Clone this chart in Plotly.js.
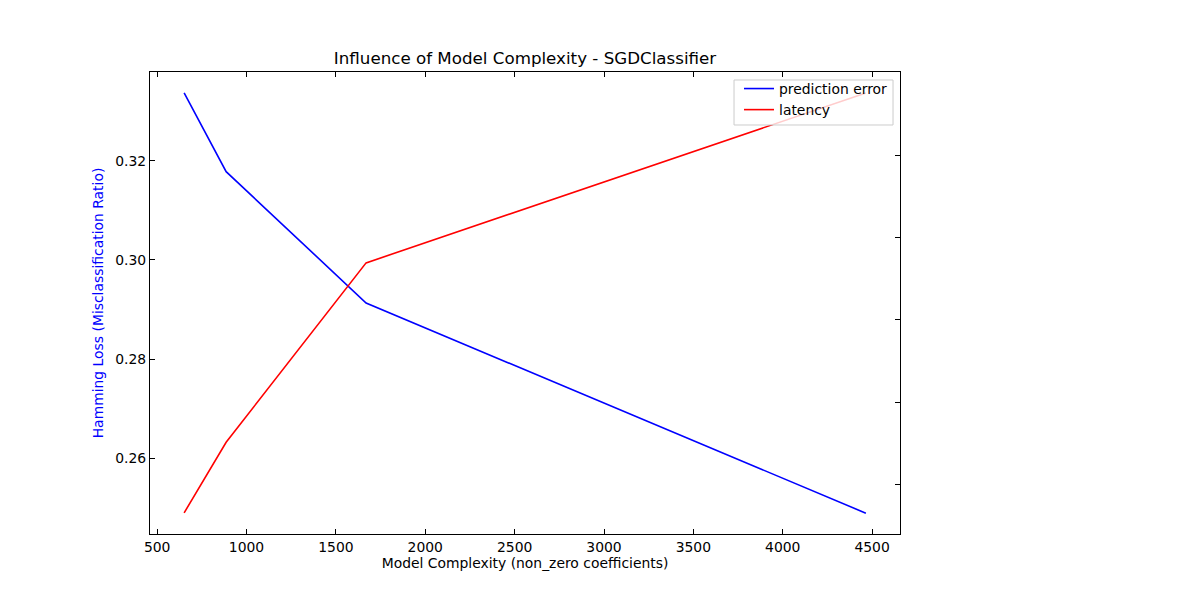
<!DOCTYPE html>
<html>
<head>
<meta charset="utf-8">
<script src="https://cdn.plot.ly/plotly-3.0.1.min.js"></script>
<style>html,body{margin:0;padding:0;background:#fff;}#chart{width:1200px;height:600px;}</style>
</head>
<body>
<div id="chart"></div>
<script>
// Model complexity (number of non-zero coefficients)
const complexity = [651, 886, 1669, 4465];
// Hamming loss (prediction error), left axis
const predictionError = [0.3337, 0.3178, 0.2913, 0.2489];
// Latency, right axis (tick labels hidden in the reference)
const latency = [9.30, 11.02, 15.39, 19.53];
const xTicks = [500, 1000, 1500, 2000, 2500, 3000, 3500, 4000, 4500];
const yTicks = [0.26, 0.28, 0.30, 0.32];
const y2Ticks = [10, 12, 14, 16, 18];

const font = "DejaVu Sans, sans-serif";
const traces = [
  {x: complexity, y: predictionError, mode: 'lines', name: 'prediction error',
   line: {color: 'blue', width: 1.6}, yaxis: 'y'},
  {x: complexity, y: latency, mode: 'lines', name: 'latency',
   line: {color: 'red', width: 1.6}, yaxis: 'y2'}
];
const layout = {
  width: 1200, height: 600,
  paper_bgcolor: '#fff', plot_bgcolor: '#fff',
  margin: {l: 150, r: 300, t: 72, b: 66, pad: 0},
  font: {family: font, size: 13.9, color: '#000'},
  title: {text: 'Influence of Model Complexity - SGDClassifier', font: {family: font, size: 16.7, color: '#000'},
          x: 0.4375, xanchor: 'center', y: 0.903, yanchor: 'middle'},
  showlegend: true,
  legend: {x: 0.9907, xanchor: 'right', y: 0.9978, yanchor: 'top',
           bgcolor: 'rgba(0,0,0,0)', borderwidth: 0,
           font: {family: font, size: 13.9, color: '#000'}, tracegroupgap: 0},
  shapes: [{type: 'rect', xref: 'paper', yref: 'paper', x0: 0.7787, x1: 0.9907, y0: 0.8853, y1: 0.9827,
            fillcolor: 'rgba(255,255,255,0.8)', line: {color: '#cccccc', width: 1}, layer: 'above'}],
  xaxis: {range: [460, 4656], tickvals: xTicks, ticktext: xTicks.map(String),
          showgrid: false, zeroline: false, showline: true, linecolor: '#000', linewidth: 1,
          mirror: 'ticks', ticks: 'inside', ticklen: 5, tickcolor: '#000',
          title: {text: 'Model Complexity (non_zero coefficients)', standoff: 3, font: {family: font, size: 13.9, color: '#000'}}},
  yaxis: {range: [0.2447, 0.3379], tickvals: yTicks, ticktext: yTicks.map(v => v.toFixed(2)),
          showgrid: false, zeroline: false, showline: true, linecolor: '#000', linewidth: 1,
          ticks: 'inside', ticklen: 5, tickcolor: '#000',
          title: {text: 'Hamming Loss (Misclassification Ratio)', standoff: 8, font: {family: font, size: 13.9, color: 'blue'}}},
  yaxis2: {range: [8.785, 20.04], tickvals: y2Ticks, showticklabels: false, overlaying: 'y', side: 'right',
           showgrid: false, zeroline: false, showline: true, linecolor: '#000', linewidth: 1,
           ticks: 'inside', ticklen: 5, tickcolor: '#000'}
};
Plotly.newPlot('chart', traces, layout, {displayModeBar: false, staticPlot: true});
</script>
</body>
</html>
